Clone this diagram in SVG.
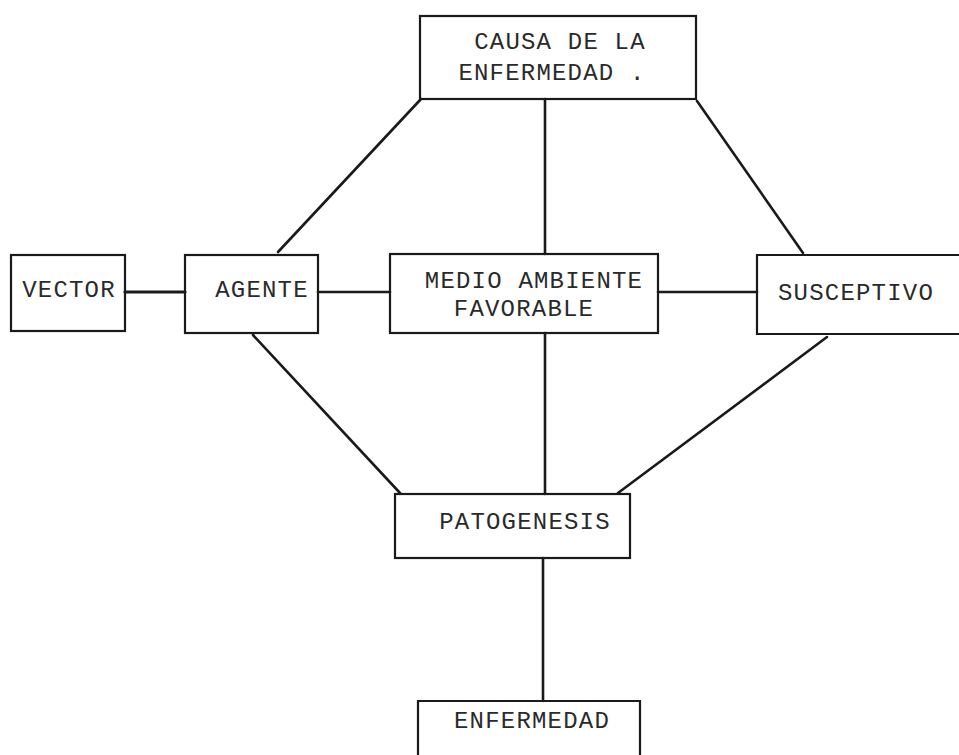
<svg xmlns="http://www.w3.org/2000/svg" width="959" height="755" viewBox="0 0 959 755">
<style>
.box{fill:none;stroke:#1a1a1a;stroke-width:2.2}
.ln{fill:none;stroke:#1a1a1a;stroke-width:2.6;stroke-linecap:round}
.t{font-family:"Liberation Mono","DejaVu Sans Mono",monospace;font-size:24px;letter-spacing:1.2px;fill:#2a2a2a;text-anchor:middle}
</style>
<rect width="959" height="755" fill="#ffffff"/>
<g id="connectors">
<line class="ln" x1="421" y1="99" x2="278" y2="252"/>
<line class="ln" x1="545" y1="99" x2="545" y2="254"/>
<line class="ln" x1="697" y1="101" x2="803" y2="253"/>
<line class="ln" x1="125" y1="292" x2="185" y2="292" style="stroke-width:3.2"/>
<line class="ln" x1="318" y1="292" x2="390" y2="292"/>
<line class="ln" x1="658" y1="292" x2="757" y2="292"/>
<line class="ln" x1="253" y1="335" x2="400" y2="493"/>
<line class="ln" x1="545" y1="333" x2="545" y2="494"/>
<line class="ln" x1="827" y1="337" x2="618" y2="493"/>
<line class="ln" x1="543" y1="558" x2="543" y2="701"/>
</g>
<g id="causa">
<rect class="box" x="420" y="16" width="276" height="83"/>
<text class="t" x="560" y="49">CAUSA DE LA</text>
<text class="t" x="552" y="80">ENFERMEDAD .</text>
</g>
<g id="vector">
<rect class="box" x="11" y="255" width="114" height="76"/>
<text class="t" x="69" y="297">VECTOR</text>
</g>
<g id="agente">
<rect class="box" x="185" y="255" width="133" height="78"/>
<text class="t" x="262" y="297">AGENTE</text>
</g>
<g id="medio">
<rect class="box" x="390" y="254" width="268" height="79"/>
<text class="t" x="534" y="288">MEDIO AMBIENTE</text>
<text class="t" x="524" y="316">FAVORABLE</text>
</g>
<g id="susceptivo">
<path class="box" d="M960 255 H757 V334 H960"/>
<text class="t" x="856" y="300">SUSCEPTIVO</text>
</g>
<g id="patogenesis">
<rect class="box" x="395" y="494" width="235" height="64"/>
<text class="t" x="525" y="529">PATOGENESIS</text>
</g>
<g id="enfermedad">
<path class="box" d="M418 756 V701 H640 V756"/>
<text class="t" x="532" y="728">ENFERMEDAD</text>
</g>
</svg>
